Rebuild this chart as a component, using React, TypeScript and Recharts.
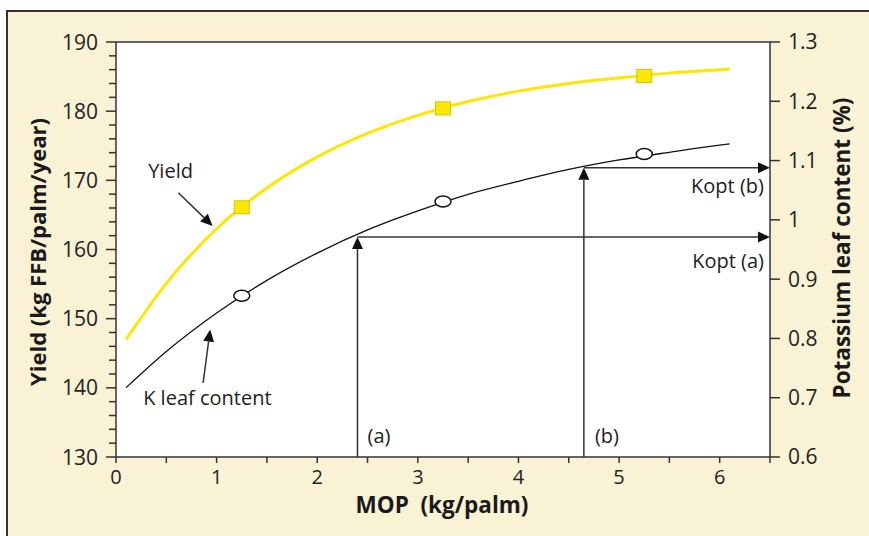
import React from 'react';
import {
  ComposedChart,
  Line,
  Scatter,
  XAxis,
  YAxis,
  CartesianGrid,
  ReferenceLine,
  ReferenceDot,
} from 'recharts';

// fitted response curves
const mop = [0.1, 0.5, 1, 1.5, 2, 2.5, 3, 3.5, 4, 4.5, 5, 5.5, 6, 6.1];
const yieldFit = [147.0, 155.1, 163.0, 168.9, 173.4, 176.8, 179.4, 181.4, 182.9, 184.0, 184.8, 185.5, 186.0, 186.1];
const kFit = [0.717, 0.778, 0.843, 0.898, 0.944, 0.983, 1.015, 1.043, 1.065, 1.085, 1.101, 1.114, 1.126, 1.128];

// trial means
const trialMop = [1.25, 3.25, 5.25];
const yieldObs = [166.1, 180.4, 185.1];
const kObs = [0.872, 1.031, 1.111];

// optimum K rates
const koptMop = [2.4, 4.65];
const koptLeaf = [0.971, 1.088];

const xTicks = [0, 0.5, 1, 1.5, 2, 2.5, 3, 3.5, 4, 4.5, 5, 5.5, 6, 6.5];
const yieldTicks = [130, 132, 134, 136, 138, 140, 142, 144, 146, 148, 150, 152, 154, 156, 158, 160,
  162, 164, 166, 168, 170, 172, 174, 176, 178, 180, 182, 184, 186, 188, 190];
const kTicks = [0.6, 0.7, 0.8, 0.9, 1, 1.1, 1.2, 1.3];

const yieldLine = mop.map((x, i) => ({ x, y: yieldFit[i] }));
const kLine = mop.map((x, i) => ({ x, y: kFit[i] }));
const yieldPts = trialMop.map((x, i) => ({ x, y: yieldObs[i] }));
const kPts = trialMop.map((x, i) => ({ x, y: kObs[i] }));

const FONT = '"Open Sans", sans-serif';
const INK = '#222';
const AXIS = '#333';

const LeftTick = (props: any) => {
  const { x, y, payload } = props;
  const v = payload.value;
  const major = v % 10 === 0;
  const ax = x + 18;
  return (
    <g>
      <line x1={ax} x2={ax - (major ? 10 : 7)} y1={y} y2={y} stroke={AXIS} strokeWidth={1.5} />
      {major && (
        <text x={x} y={y} dy="0.36em" textAnchor="end" fontFamily={FONT} fontSize={21} fill={INK}>
          {v}
        </text>
      )}
    </g>
  );
};

const arrow = (p: any) => {
  const { x1, y1, x2, y2 } = p;
  const a = Math.atan2(y2 - y1, x2 - x1);
  const L = 12;
  const W = 5.5;
  const bx = x2 - L * Math.cos(a);
  const by = y2 - L * Math.sin(a);
  const px = -Math.sin(a) * W;
  const py = Math.cos(a) * W;
  return (
    <g>
      <line x1={x1} y1={y1} x2={bx} y2={by} stroke={AXIS} strokeWidth={1.5} />
      <polygon points={`${x2},${y2} ${bx + px},${by + py} ${bx - px},${by - py}`} fill="#111" />
    </g>
  );
};

const note = (text: string, anchor: string) => (p: any) => (
  <text x={p.cx} y={p.cy} textAnchor={anchor} fontFamily={FONT} fontSize={20} fill={INK}>
    {text}
  </text>
);

const square = (p: any) => (
  <rect x={p.cx - 7.5} y={p.cy - 6.5} width={15} height={13} fill="#FFE800" stroke="#D8C200" strokeWidth={1} />
);

const ring = (p: any) => (
  <ellipse cx={p.cx} cy={p.cy} rx={8} ry={5.5} fill="#fff" stroke="#111" strokeWidth={1.5} />
);

const App = () => {
  return (
    <div style={{ position: 'absolute', left: 0, top: 0, width: 869, height: 536, background: '#fff', overflow: 'hidden' }}>
      <div
        style={{
          position: 'absolute',
          left: 6,
          top: 10,
          width: 900,
          height: 560,
          background: '#F9F2D4',
          borderTop: '2px solid #333',
          borderLeft: '2px solid #333',
        }}
      />
      <ComposedChart
        width={869}
        height={536}
        margin={{ top: 42, right: 29, bottom: 39, left: 46 }}
        style={{ position: 'absolute', left: 0, top: 0 }}
      >
        <CartesianGrid fill="#fff" horizontal={false} vertical={false} yAxisId="y" />
        <XAxis
          type="number"
          dataKey="x"
          domain={[0, 6.5]}
          ticks={xTicks}
          interval={0}
          height={40}
          stroke={AXIS}
          strokeWidth={1.5}
          tickSize={6}
          tickMargin={7}
          tick={{ fontFamily: FONT, fontSize: 20, fill: INK }}
          tickFormatter={(v) => (Number.isInteger(v) ? String(v) : '')}
          label={() => (
            <text x={442} y={513} textAnchor="middle" fontFamily={FONT} fontSize={22.5} fontWeight={700} fill="#1a1a1a">
              MOP{'\u00A0\u00A0'}(kg/palm)
            </text>
          )}
        />
        <YAxis
          yAxisId="y"
          dataKey="y"
          type="number"
          domain={[130, 190]}
          ticks={yieldTicks}
          interval={0}
          width={70}
          stroke={AXIS}
          strokeWidth={1.5}
          tickLine={false}
          tickSize={10}
          tickMargin={8}
          tick={<LeftTick />}
          label={() => (
            <text
              x={46}
              y={252}
              transform="rotate(-90 46 252)"
              textAnchor="middle"
              fontFamily={FONT}
              fontSize={22}
              fontWeight={700}
              fill="#1a1a1a"
            >
              Yield (kg FFB/palm/year)
            </text>
          )}
        />
        <YAxis
          yAxisId="k"
          orientation="right"
          dataKey="y"
          type="number"
          domain={[0.6, 1.3]}
          ticks={kTicks}
          interval={0}
          width={70}
          stroke={AXIS}
          strokeWidth={1.5}
          tickSize={10}
          tickMargin={8}
          tick={{ fontFamily: FONT, fontSize: 21, fill: INK }}
          label={() => (
            <text
              x={850}
              y={248}
              transform="rotate(-90 850 248)"
              textAnchor="middle"
              fontFamily={FONT}
              fontSize={22.5}
              fontWeight={700}
              fill="#1a1a1a"
            >
              Potassium leaf content (%)
            </text>
          )}
        />
        <ReferenceLine yAxisId="y" y={190} stroke={AXIS} strokeWidth={1.5} />

        {koptMop.map((m, i) => (
          <ReferenceLine
            key={`v${i}`}
            yAxisId="k"
            segment={[{ x: m, y: 0.6 }, { x: m, y: koptLeaf[i] }]}
            shape={arrow}
          />
        ))}
        {koptMop.map((m, i) => (
          <ReferenceLine
            key={`h${i}`}
            yAxisId="k"
            segment={[{ x: m, y: koptLeaf[i] }, { x: 6.5, y: koptLeaf[i] }]}
            shape={arrow}
          />
        ))}
        <ReferenceLine yAxisId="y" segment={[{ x: 0.62, y: 168.2 }, { x: 0.96, y: 163.4 }]} shape={arrow} />
        <ReferenceLine yAxisId="k" segment={[{ x: 0.866, y: 0.725 }, { x: 0.936, y: 0.815 }]} shape={arrow} />

        <Line
          yAxisId="y"
          data={yieldLine}
          dataKey="y"
          type="monotone"
          stroke="#FFE500"
          strokeWidth={3}
          dot={false}
          isAnimationActive={false}
        />
        <Line
          yAxisId="k"
          data={kLine}
          dataKey="y"
          type="monotone"
          stroke="#111"
          strokeWidth={1.3}
          dot={false}
          isAnimationActive={false}
        />
        <Scatter yAxisId="y" data={yieldPts} dataKey="y" shape={square} isAnimationActive={false} />
        <Scatter yAxisId="k" data={kPts} dataKey="y" shape={ring} isAnimationActive={false} />

        <ReferenceDot yAxisId="y" x={0.32} y={170.3} shape={note('Yield', 'start')} />
        <ReferenceDot yAxisId="k" x={0.27} y={0.688} shape={note('K leaf content', 'start')} />
        <ReferenceDot yAxisId="y" x={2.5} y={132} shape={note('(a)', 'start')} />
        <ReferenceDot yAxisId="y" x={4.76} y={132} shape={note('(b)', 'start')} />
        <ReferenceDot yAxisId="k" x={6.44} y={1.045} shape={note('Kopt (b)', 'end')} />
        <ReferenceDot yAxisId="k" x={6.44} y={0.919} shape={note('Kopt (a)', 'end')} />
      </ComposedChart>
    </div>
  );
};

export default App;
